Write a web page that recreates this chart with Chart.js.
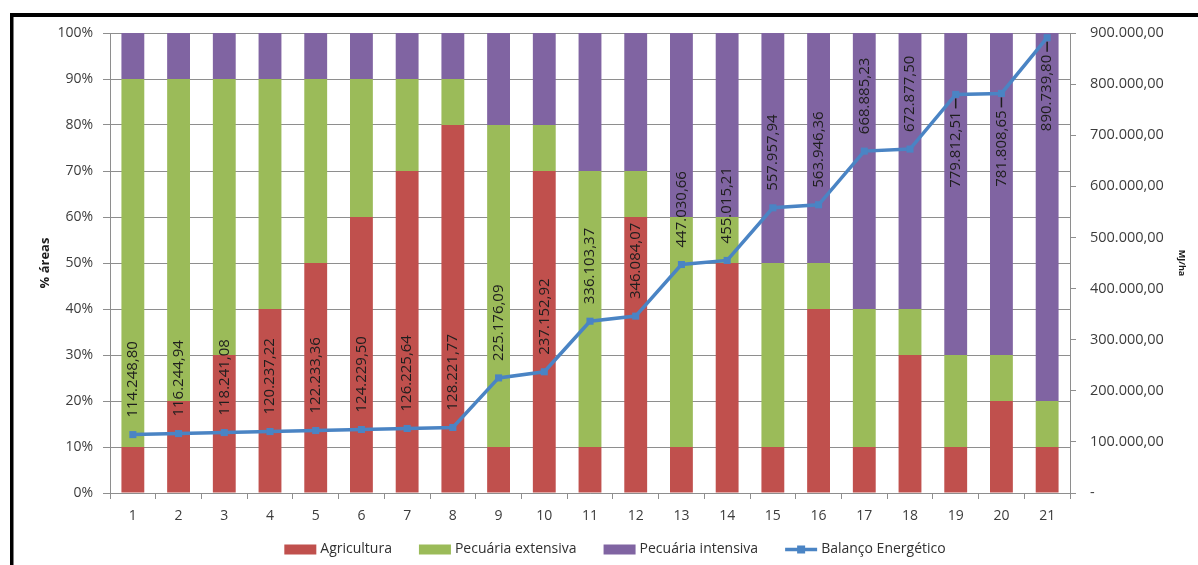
<!DOCTYPE html>
<html>
<head>
<meta charset="utf-8">
<title>Balanço Energético e uso das áreas</title>
<script src="https://cdn.jsdelivr.net/npm/chart.js@4.4.1/dist/chart.umd.min.js"></script>
<style>
  html, body { margin: 0; padding: 0; background: #fff; overflow: hidden; }
  #wrap { width: 1198px; height: 565px; position: relative; }
</style>
</head>
<body>
<div id="wrap"><canvas id="chart" width="1198" height="565"></canvas></div>
<script>
// Scenarios 1..21
const categories = ['1','2','3','4','5','6','7','8','9','10','11','12','13','14','15','16','17','18','19','20','21'];

// Share of area per land use (%)
const agricultura       = [10, 20, 30, 40, 50, 60, 70, 80, 10, 70, 10, 60, 10, 50, 10, 40, 10, 30, 10, 20, 10];
const pecuariaExtensiva = [80, 70, 60, 50, 40, 30, 20, 10, 70, 10, 60, 10, 50, 10, 40, 10, 30, 10, 20, 10, 10];
const pecuariaIntensiva = [10, 10, 10, 10, 10, 10, 10, 10, 20, 20, 30, 30, 40, 40, 50, 50, 60, 60, 70, 70, 80];

// Energy balance (MJ/ha)
const balancoEnergetico = [
  114248.80, 116244.94, 118241.08, 120237.22, 122233.36, 124229.50, 126225.64,
  128221.77, 225176.09, 237152.92, 336103.37, 346084.07, 447030.66, 455015.21,
  557957.94, 563946.36, 668885.23, 672877.50, 779812.51, 781808.65, 890739.80
];

// Axis ranges
const percentMax = 100;
const percentStep = 10;
const energyMax = 900000;
const energyStep = 100000;

const FONT = '"Open Sans", "DejaVu Sans", sans-serif';
const GRID = '#8e8e8e';
const TEXT = '#3c3c3c';
const RED = '#c0504d';
const GREEN = '#9bbb59';
const PURPLE = '#8064a2';
const BLUE = '#4a84c4';

// "114248.8" -> "114.248,80"
function formatBR(v) {
  const fixed = Math.abs(v).toFixed(2);
  const [intPart, dec] = fixed.split('.');
  const withDots = intPart.replace(/\B(?=(\d{3})+(?!\d))/g, '.');
  return (v < 0 ? '-' : '') + withDots + ',' + dec;
}

Chart.defaults.font.family = FONT;
Chart.defaults.color = TEXT;

// White page plus the black frame lines on top and left
const framePlugin = {
  id: 'frame',
  beforeDraw(chart) {
    const ctx = chart.ctx;
    ctx.save();
    ctx.fillStyle = '#ffffff';
    ctx.fillRect(0, 0, chart.width, chart.height);
    ctx.restore();
  },
  afterDraw(chart) {
    const ctx = chart.ctx;
    ctx.save();
    ctx.fillStyle = '#000000';
    ctx.fillRect(10, 13, chart.width - 10, 4);
    ctx.fillRect(10, 13, 3.5, chart.height - 13);
    ctx.restore();
  }
};

// Vertical value labels for the energy balance line
const lineLabelPlugin = {
  id: 'lineLabels',
  afterDatasetsDraw(chart) {
    const ctx = chart.ctx;
    const area = chart.chartArea;
    chart.data.datasets.forEach((ds, di) => {
      if (ds.type !== 'line') return;
      const meta = chart.getDatasetMeta(di);
      meta.data.forEach((pt, i) => {
        const txt = formatBR(ds.data[i]);
        ctx.save();
        ctx.font = '15px ' + FONT;
        ctx.fillStyle = '#1e1e1e';
        const w = ctx.measureText(txt).width;
        const gap = 17;
        const above = pt.y - gap - w >= area.top;
        const startY = above ? pt.y - gap : pt.y + gap + w;
        ctx.translate(pt.x, startY);
        ctx.rotate(-Math.PI / 2);
        ctx.textAlign = 'left';
        ctx.textBaseline = 'middle';
        ctx.fillText(txt, 0, 0);
        ctx.restore();
        if (!above) {
          ctx.save();
          ctx.strokeStyle = '#1e1e1e';
          ctx.lineWidth = 1.5;
          ctx.beginPath();
          ctx.moveTo(pt.x, pt.y + 4);
          ctx.lineTo(pt.x, pt.y + gap - 3);
          ctx.stroke();
          ctx.restore();
        }
      });
    });
  }
};

// Legend row below the axis
const legendPlugin = {
  id: 'bottomLegend',
  afterDraw(chart) {
    const ctx = chart.ctx;
    const cy = 549.5;
    const boxW = 32, boxH = 10, textGap = 4, itemGap = 27;
    ctx.save();
    ctx.font = '14px ' + FONT;
    const items = chart.data.datasets.map(ds => ({
      ds, w: ctx.measureText(ds.label).width
    }));
    const total = items.reduce((s, it) => s + boxW + textGap + it.w, 0) + itemGap * (items.length - 1);
    let x = 615 - total / 2;
    ctx.textBaseline = 'middle';
    ctx.textAlign = 'left';
    items.forEach(it => {
      const ds = it.ds;
      if (ds.type === 'line') {
        ctx.strokeStyle = ds.borderColor;
        ctx.lineWidth = 3.5;
        ctx.beginPath();
        ctx.moveTo(x, cy);
        ctx.lineTo(x + boxW, cy);
        ctx.stroke();
        ctx.fillStyle = ds.borderColor;
        ctx.fillRect(x + boxW / 2 - 4, cy - 4, 8, 8);
      } else {
        ctx.fillStyle = ds.backgroundColor;
        ctx.fillRect(x, cy - boxH / 2, boxW, boxH);
      }
      x += boxW + textGap;
      ctx.fillStyle = '#303030';
      ctx.fillText(ds.label, x, cy);
      x += it.w + itemGap;
    });
    ctx.restore();
  }
};

const barCommon = {
  type: 'bar',
  yAxisID: 'y',
  stack: 'areas',
  barPercentage: 0.5,
  categoryPercentage: 1.0,
  borderWidth: 0,
  order: 1
};

new Chart(document.getElementById('chart'), {
  data: {
    labels: categories,
    datasets: [
      Object.assign({ label: 'Agricultura', data: agricultura, backgroundColor: RED }, barCommon),
      Object.assign({ label: 'Pecuária extensiva', data: pecuariaExtensiva, backgroundColor: GREEN }, barCommon),
      Object.assign({ label: 'Pecuária intensiva', data: pecuariaIntensiva, backgroundColor: PURPLE }, barCommon),
      {
        type: 'line',
        label: 'Balanço Energético',
        data: balancoEnergetico,
        yAxisID: 'y2',
        borderColor: BLUE,
        backgroundColor: BLUE,
        borderWidth: 3.5,
        tension: 0,
        pointStyle: 'rect',
        pointRadius: 5,
        pointBackgroundColor: BLUE,
        pointBorderColor: BLUE,
        pointBorderWidth: 0,
        order: 0
      }
    ]
  },
  options: {
    responsive: false,
    animation: false,
    devicePixelRatio: 1,
    events: [],
    layout: { padding: { top: 33, left: 37, right: 11, bottom: 0 } },
    plugins: {
      legend: { display: false },
      tooltip: { enabled: false },
      title: { display: false }
    },
    scales: {
      x: {
        stacked: true,
        offset: true,
        grid: {
          display: true,
          drawOnChartArea: false,
          drawTicks: true,
          tickLength: 6,
          offset: true,
          color: GRID,
          lineWidth: 1
        },
        border: { display: true, color: GRID, width: 1 },
        ticks: { font: { size: 14 }, color: TEXT, padding: 9, maxRotation: 0, autoSkip: false },
        afterFit(scale) { scale.height = 72; }
      },
      y: {
        stacked: true,
        position: 'left',
        min: 0,
        max: percentMax,
        ticks: {
          stepSize: percentStep,
          font: { size: 14 },
          color: TEXT,
          padding: 10,
          callback: v => v + '%'
        },
        grid: { color: GRID, lineWidth: 1, tickLength: 7, drawTicks: true },
        border: { display: true, color: GRID, width: 1 },
        title: {
          display: true,
          text: '% áreas',
          font: { size: 13, weight: 'bold' },
          color: '#1a1a1a',
          padding: 0
        },
        afterFit(scale) { scale.width = 73; }
      },
      y2: {
        position: 'right',
        min: 0,
        max: energyMax,
        ticks: {
          stepSize: energyStep,
          font: { size: 14.5 },
          color: TEXT,
          padding: 14,
          callback: v => (v === 0 ? '-' : formatBR(v))
        },
        grid: { drawOnChartArea: false, drawTicks: true, tickLength: 6, color: GRID, lineWidth: 1 },
        border: { display: true, color: GRID, width: 1 },
        title: {
          display: true,
          text: 'MJ/ha',
          font: { size: 9, weight: 'bold' },
          color: '#1a1a1a',
          padding: 0
        },
        afterFit(scale) { scale.width = 117; }
      }
    }
  },
  plugins: [framePlugin, lineLabelPlugin, legendPlugin]
});
</script>
</body>
</html>
